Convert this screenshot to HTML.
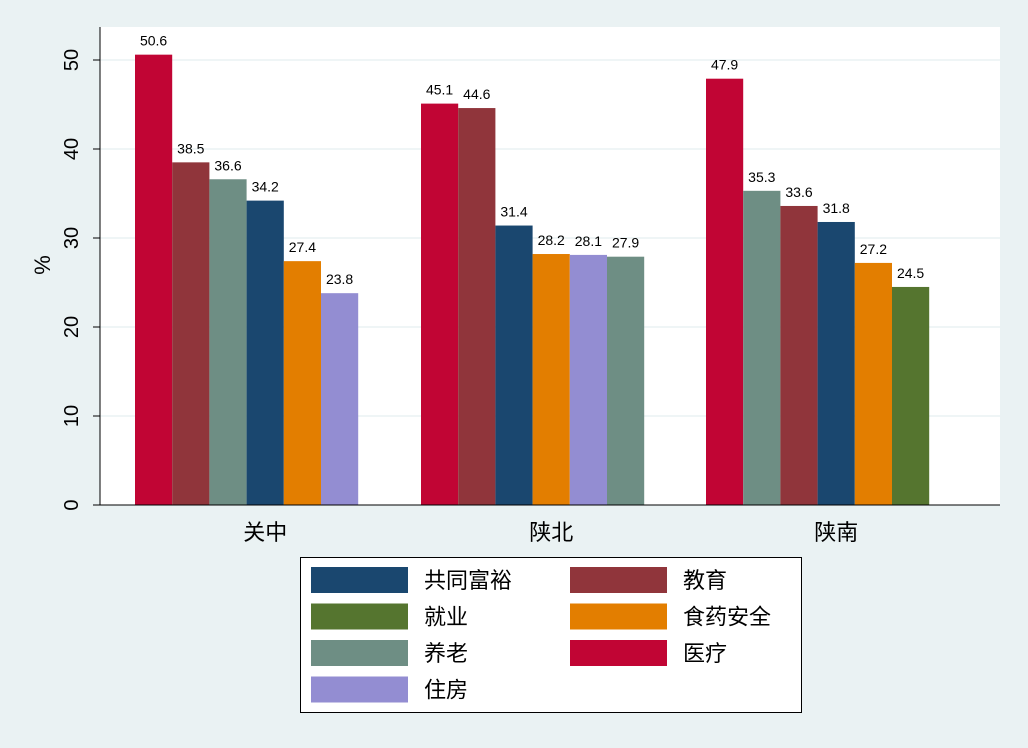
<!DOCTYPE html>
<html><head><meta charset="utf-8"><style>
body{margin:0;background:#eaf2f3;}
svg{display:block;font-family:"Liberation Sans","Noto Sans CJK SC",sans-serif;}
</style></head><body>
<svg width="1028" height="748">
<rect x="0" y="0" width="1028" height="748" fill="#eaf2f3"/>
<rect x="100" y="27" width="900" height="478" fill="#ffffff"/>
<g id="grid"></g><g id="bars"></g><g id="axes"></g><g id="legend"></g>
</svg>
<script>
const groups=["关中","陕北","陕南"];
const seriesNames=["共同富裕","教育","就业","食药安全","养老","医疗","住房"];
const seriesColors=["#1a476f","#90353b","#55752f","#e37e00","#6e8e84","#c10534","#938dd2"];
const groupOrder=[["医疗","教育","养老","共同富裕","食药安全","住房"],["医疗","教育","共同富裕","食药安全","住房","养老"],["医疗","养老","教育","共同富裕","食药安全","就业"]];
const groupValues=[[50.6,38.5,36.6,34.2,27.4,23.8],[45.1,44.6,31.4,28.2,28.1,27.9],[47.9,35.3,33.6,31.8,27.2,24.5]];
const yTicks=[0,10,20,30,40,50];
const NS="http://www.w3.org/2000/svg";
const y=v=>505-v*8.9;
const groupStart=[135,421,706];const bw=37.2;
function mk(t,a,p){const e=document.createElementNS(NS,t);for(const k in a)e.setAttribute(k,a[k]);p.appendChild(e);return e;}
const grid=document.getElementById('grid'),bars=document.getElementById('bars'),axes=document.getElementById('axes'),leg=document.getElementById('legend');
yTicks.forEach(t=>{
 if(t>0){const g=mk('line',{x1:100,x2:1000,y1:y(t),y2:y(t),stroke:'#eaf2f3','stroke-width':1.5},grid);
 
 }
 const tk=mk('line',{x1:93,x2:100,y1:y(t),y2:y(t),stroke:'#000'},axes);
 
 
 const tx=mk('text',{x:0,y:0,'font-size':20,'text-anchor':'middle',transform:`translate(78,${y(t)}) rotate(-90)`},axes);
 tx.textContent=t;
 
 
});
mk('line',{x1:100,x2:100,y1:27,y2:505,stroke:'#000'},axes);
mk('line',{x1:100,x2:1000,y1:505,y2:505,stroke:'#000'},axes);
const yt=mk('text',{x:0,y:0,'font-size':22,'text-anchor':'middle',transform:'translate(50,265) rotate(-90)'},axes);
yt.textContent='%';


groups.forEach((g,gi)=>{
 groupValues[gi].forEach((v,i)=>{
  const s=groupOrder[gi][i];const c=seriesColors[seriesNames.indexOf(s)];
  const x=groupStart[gi]+i*bw;
  const r=mk('rect',{x:x,y:y(v),width:bw,height:505-y(v),fill:c},bars);
  
  
  const l=mk('text',{x:x+bw/2,y:y(v)-9,'font-size':14,'text-anchor':'middle'},bars);
  l.textContent=v.toFixed(1);
  
  
 });
 const gl=mk('text',{x:groupStart[gi]+bw*3.5,y:540,'font-size':22,'text-anchor':'middle'},axes);
 gl.textContent=g;
 
 
});
const lb=mk('rect',{x:300.5,y:557.5,width:501,height:155,fill:'#fff',stroke:'#000'},leg);


seriesNames.forEach((s,i)=>{
 const col=i%2,row=Math.floor(i/2);
 const sx=col?570:311,cy=580+row*36.5;
 const r=mk('rect',{x:sx,y:cy-13,width:97,height:26,fill:seriesColors[i]},leg);
 
 
 const t=mk('text',{x:sx+113,y:cy+8,'font-size':22},leg);
 t.textContent=s;
 
 
});
</script>
</body></html>
